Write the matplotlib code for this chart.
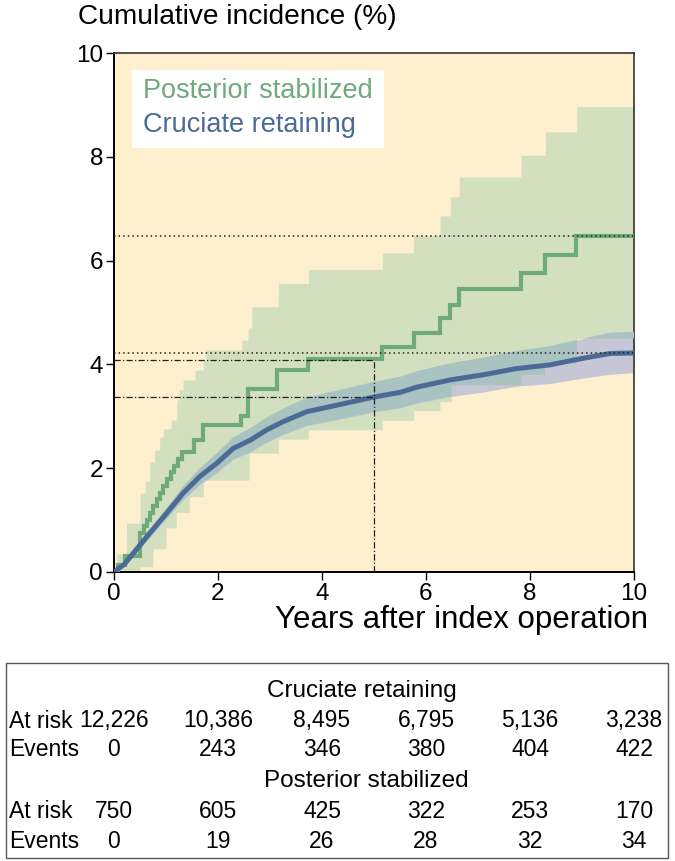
import numpy as np
import matplotlib
matplotlib.use("Agg")
import matplotlib.pyplot as plt
import matplotlib.transforms as mtransforms
from matplotlib.patches import Rectangle

# ---------------- data ----------------
# Posterior stabilized (PS): step function (time in years, cumulative incidence %)
ps_t = [0, 0.08, 0.21, 0.50, 0.57, 0.63, 0.69, 0.75, 0.82, 0.88, 0.95, 1.02, 1.09,
        1.16, 1.23, 1.30, 1.53, 1.72, 2.44, 2.58, 3.14, 3.74, 5.16, 5.76, 6.27,
        6.46, 6.64, 7.82, 8.29, 8.88, 10.0]
ps_v = [0, 0.13, 0.30, 0.75, 0.88, 1.01, 1.14, 1.27, 1.40, 1.53, 1.66, 1.79, 1.92,
        2.05, 2.18, 2.32, 2.54, 2.83, 3.00, 3.52, 3.89, 4.10, 4.34, 4.60, 4.89,
        5.14, 5.45, 5.77, 6.11, 6.48, 6.48]
# PS confidence band (upper / lower step functions)
ps_hi_t = [0, 0.05, 0.24, 0.50, 0.60, 0.69, 0.78, 0.88, 0.95, 1.10, 1.21, 1.25, 1.33,
           1.56, 1.72, 1.77, 2.46, 2.58, 2.65, 3.16, 3.74, 5.16, 5.76, 6.27, 6.47,
           6.64, 7.83, 8.30, 8.90, 10.0]
ps_hi_v = [0, 0.35, 0.94, 1.52, 1.75, 2.12, 2.35, 2.60, 2.76, 2.93, 3.31, 3.51, 3.70,
           3.89, 4.08, 4.28, 4.47, 4.70, 5.11, 5.56, 5.83, 6.15, 6.48, 6.86, 7.23,
           7.61, 8.03, 8.48, 8.97, 8.97]
ps_lo_t = [0, 0.50, 0.75, 1.00, 1.20, 1.45, 1.72, 2.60, 3.16, 3.74, 5.16, 5.76, 6.27,
           6.49, 7.84, 8.29, 8.90, 10.0]
ps_lo_v = [0, 0.10, 0.45, 0.85, 1.15, 1.45, 1.77, 2.29, 2.56, 2.74, 2.92, 3.11, 3.28,
           3.60, 3.80, 4.02, 4.50, 4.50]

# Cruciate retaining (CR): estimate and confidence band
cr_t = [0, 0.20, 0.37, 0.69, 1.01, 1.33, 1.65, 1.97, 2.29, 2.62, 2.94, 3.26, 3.71,
        4.22, 4.99, 5.50, 5.82, 6.46, 7.10, 7.74, 8.38, 9.03, 9.54, 10.0]
cr_v = [0, 0.15, 0.36, 0.75, 1.13, 1.52, 1.84, 2.09, 2.38, 2.54, 2.74, 2.90, 3.09,
        3.20, 3.37, 3.46, 3.56, 3.70, 3.80, 3.92, 3.99, 4.12, 4.21, 4.22]
cr_hi = [0, 0.19, 0.42, 0.83, 1.23, 1.65, 2.00, 2.28, 2.59, 2.77, 2.98, 3.15, 3.36,
         3.48, 3.66, 3.76, 3.87, 4.02, 4.13, 4.26, 4.35, 4.50, 4.61, 4.63]
cr_lo = [0, 0.11, 0.30, 0.67, 1.03, 1.39, 1.68, 1.90, 2.17, 2.31, 2.50, 2.65, 2.82,
         2.92, 3.08, 3.16, 3.25, 3.38, 3.47, 3.58, 3.63, 3.74, 3.81, 3.84]

# reference lines
ref_dotted = [6.48, 4.22]          # 10-year estimates
ref_dashdot = [4.08, 3.37]         # 5-year estimates
ref_year = 5

x_ticks = [0, 2, 4, 6, 8, 10]
y_ticks = [0, 2, 4, 6, 8, 10]

table_years = [0, 2, 4, 6, 8, 10]
cr_at_risk = ["12,226", "10,386", "8,495", "6,795", "5,136", "3,238"]
cr_events = ["0", "243", "346", "380", "404", "422"]
ps_at_risk = ["750", "605", "425", "322", "253", "170"]
ps_events = ["0", "19", "26", "28", "32", "34"]

# ---------------- style ----------------
CREAM = "#FEEFCF"
GREEN_BAND = "#D3E0BF"
GREEN_LINE = "#6FAA7C"
TEAL = "#A8C3C0"
LAVENDER = "#C7C6D4"
BLUE_LINE = "#4B6B96"

plt.rcParams["font.family"] = ["Liberation Sans", "DejaVu Sans"]

fig = plt.figure(figsize=(6.75, 8.61), dpi=100)
ax = fig.add_axes([114 / 675, 1 - 572 / 861, 520 / 675, 519 / 861])
ax.set_facecolor(CREAM)
ax.set_xlim(0, 10)
ax.set_ylim(0, 10)

# fine grid for rendering the bands
tg = np.linspace(0, 10, 4001)
def step_at(ts, vs, grid):
    idx = np.searchsorted(np.asarray(ts), grid, side="right") - 1
    idx = np.clip(idx, 0, len(vs) - 1)
    return np.asarray(vs)[idx]

g_hi = step_at(ps_hi_t, ps_hi_v, tg)
g_lo = step_at(ps_lo_t, ps_lo_v, tg)
b_hi = np.interp(tg, cr_t, cr_hi)
b_lo = np.interp(tg, cr_t, cr_lo)

ax.fill_between(tg, g_lo, g_hi, color=GREEN_BAND, lw=0, zorder=1)
ax.fill_between(tg, b_lo, b_hi, color=LAVENDER, lw=0, zorder=2)
ov_lo = np.maximum(b_lo, g_lo)
ov_hi = np.minimum(b_hi, g_hi)
ax.fill_between(tg, ov_lo, ov_hi, where=ov_hi > ov_lo, color=TEAL, lw=0, zorder=3,
                interpolate=True)

ax.plot(ps_t, ps_v, drawstyle="steps-post", color=GREEN_LINE, lw=3.0, zorder=5,
        solid_joinstyle="miter")
ax.plot(cr_t, cr_v, color=BLUE_LINE, lw=3.6, zorder=6)

# reference lines
for yv in ref_dotted:
    ax.plot([0, 10], [yv, yv], color="#222222", lw=1.1, ls=(0, (1, 2.0)), zorder=7)
for yv in ref_dashdot:
    ax.plot([0, ref_year], [yv, yv], color="#222222", lw=0.9,
            ls=(0, (5, 1.8, 1, 1.8)), zorder=7)
ax.plot([ref_year, ref_year], [0, max(ref_dashdot)], color="#222222", lw=0.9,
        ls=(0, (5, 1.8, 1, 1.8)), zorder=7)

# legend box
ax.add_patch(Rectangle((0.035, 0.817), 0.484, 0.150, transform=ax.transAxes,
                       facecolor="white", edgecolor="none", zorder=8))
ax.text(0.056, 0.927, "Posterior stabilized", transform=ax.transAxes, color=GREEN_LINE,
        fontsize=19.5, va="center", ha="left", zorder=9)
ax.text(0.056, 0.862, "Cruciate retaining", transform=ax.transAxes, color=BLUE_LINE,
        fontsize=19.5, va="center", ha="left", zorder=9)

# axes styling
ax.set_xticks(x_ticks)
ax.set_yticks(y_ticks)
ax.tick_params(axis="both", direction="out", length=6, width=1.0, labelsize=17.5,
               colors="black", pad=2)
for s in ["left", "bottom"]:
    ax.spines[s].set_linewidth(1.4)
    ax.spines[s].set_color("black")
for s in ["top", "right"]:
    ax.spines[s].set_linewidth(1.2)
    ax.spines[s].set_color("#333333")

fig.text(78 / 675, 1 - 17 / 861, "Cumulative incidence (%)", fontsize=20.2,
         ha="left", va="center")
fig.text(648 / 675, 1 - 620 / 861, "Years after index operation", fontsize=22.5,
         ha="right", va="center")

# ---------------- risk table ----------------
fig.patches.append(Rectangle((6 / 675, 1 - 858 / 861), 662 / 675, 195 / 861,
                             transform=fig.transFigure, facecolor="none",
                             edgecolor="#555555", lw=1.0))
tfont = ["Liberation Sans", "DejaVu Sans"]
tsize = 16.5
trans = mtransforms.blended_transform_factory(ax.transData, fig.transFigure)

def fy(py):
    return 1 - py / 861

fig.text(362 / 675, fy(691), "Cruciate retaining", family=tfont,
         fontsize=tsize + 1, ha="center", va="center")
fig.text(366 / 675, fy(781), "Posterior stabilized", family=tfont,
         fontsize=tsize + 1, ha="center", va="center")
rows = [(fy(721), "At risk", cr_at_risk), (fy(750), "Events", cr_events),
        (fy(812), "At risk", ps_at_risk), (fy(841), "Events", ps_events)]
for yy, label, vals in rows:
    fig.text(9 / 675, yy, label, family=tfont, fontsize=tsize, ha="left", va="center")
    for xv, s in zip(table_years, vals):
        fig.text(xv, yy, s, family=tfont, fontsize=tsize, ha="center", va="center",
                 transform=trans)

fig.savefig("out.png", dpi=100)
